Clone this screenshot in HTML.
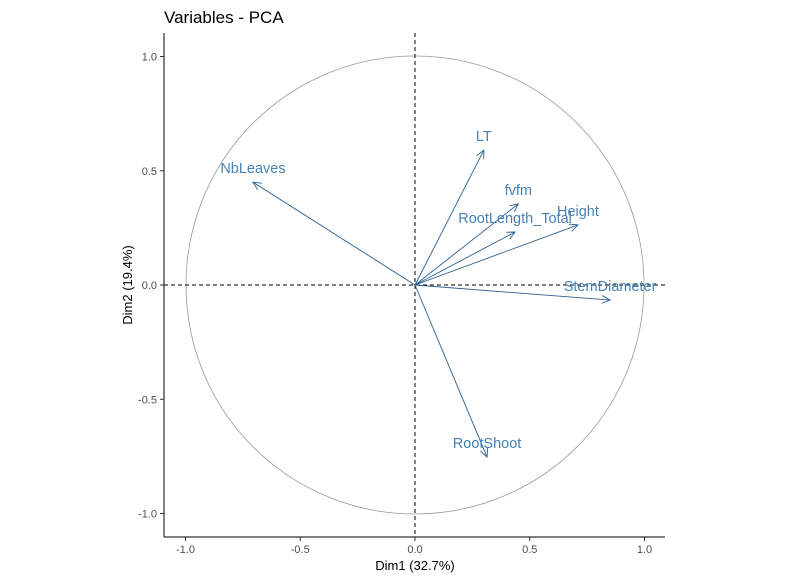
<!DOCTYPE html>
<html><head><meta charset="utf-8"><style>
body{margin:0;background:#fff;}
svg{display:block;font-family:"Liberation Sans",sans-serif;}
</style></head><body>
<svg id="chart" width="785" height="580">
<text x="164" y="23" font-size="17" fill="#000">Variables - PCA</text>
<g id="plot"></g>
<text x="415" y="570" font-size="13" text-anchor="middle">Dim1 (32.7%)</text>
<text transform="translate(132,285) rotate(-90)" font-size="13" text-anchor="middle">Dim2 (19.4%)</text>
</svg>
<script>
const variables=["NbLeaves","LT","fvfm","RootLength_Total","Height","StemDiameter","RootShoot"];
const dim1=[-0.706,0.30,0.45,0.436,0.71,0.85,0.314];
const dim2=[0.45,0.59,0.355,0.232,0.263,-0.066,-0.753];
const ticks=[-1.0,-0.5,0.0,0.5,1.0];
const tickLabels=["-1.0","-0.5","0.0","0.5","1.0"];
const NS="http://www.w3.org/2000/svg";
const sx=v=>415+v*229.5, sy=v=>285-v*228.5;
const g=document.getElementById('plot');
function el(t,a){const e=document.createElementNS(NS,t);for(const k in a)e.setAttribute(k,a[k]);g.appendChild(e);return e;}
let c=el('circle',{cx:sx(0),cy:sy(0),r:229,fill:'none',stroke:'#999','stroke-width':0.8});


let ax=el('line',{x1:164,y1:33,x2:164,y2:537,stroke:'#000','stroke-width':1});


let bx=el('line',{x1:164,y1:537,x2:665,y2:537,stroke:'#000','stroke-width':1});


let h=el('line',{x1:164,y1:sy(0),x2:665,y2:sy(0),stroke:'#000','stroke-dasharray':'4,3'});


let v=el('line',{x1:sx(0),y1:33,x2:sx(0),y2:537,stroke:'#000','stroke-dasharray':'4,3'});


ticks.forEach((t,i)=>{
 let a=el('line',{x1:sx(t),y1:537,x2:sx(t),y2:541,stroke:'#333'});
 
 
 let tx=el('text',{x:sx(t),y:553,'font-size':11,'text-anchor':'middle',fill:'#4d4d4d'});tx.textContent=tickLabels[i];
 
 
 let b=el('line',{x1:160,y1:sy(t),x2:164,y2:sy(t),stroke:'#333'});
 
 
 let ty=el('text',{x:157,y:sy(t)+4,'font-size':11,'text-anchor':'end',fill:'#4d4d4d'});ty.textContent=tickLabels[i];
 
 
});
variables.forEach((n,i)=>{
 const x2=sx(dim1[i]),y2=sy(dim2[i]),x1=sx(0),y1=sy(0);
 const ang=Math.atan2(y2-y1,x2-x1),L=9,w=0.45;
 let ln=el('line',{x1,y1,x2,y2,stroke:'#2b5f8f','stroke-width':0.9});
 
 
 let hd=el('polyline',{points:`${x2-L*Math.cos(ang-w)},${y2-L*Math.sin(ang-w)} ${x2},${y2} ${x2-L*Math.cos(ang+w)},${y2-L*Math.sin(ang+w)}`,fill:'none',stroke:'#2b5f8f','stroke-width':0.9});
 
 
 let t=el('text',{x:x2,y:y2-9,'font-size':14.5,'text-anchor':'middle',fill:'#4682b4'});t.textContent=n;
 
 
});
</script>
</body></html>
